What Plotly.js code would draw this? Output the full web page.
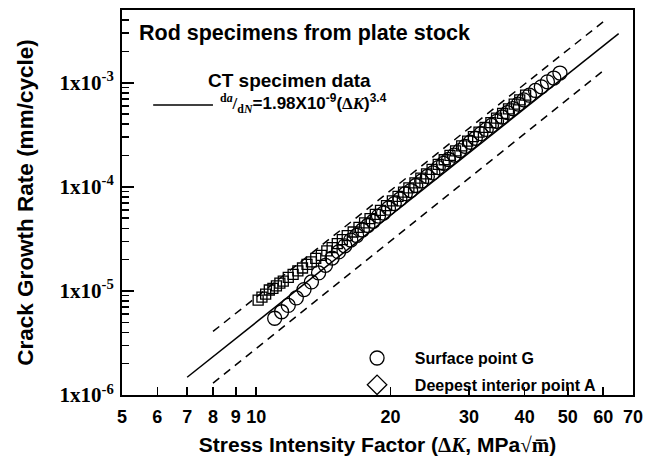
<!DOCTYPE html>
<html>
<head>
<meta charset="utf-8">
<script src="https://cdn.plot.ly/plotly-3.0.1.min.js"></script>
<style>html,body{margin:0;padding:0;background:#fff;}#chart{width:653px;height:463px;}</style>
</head>
<body>
<div id="chart"></div>
<script>
// Surface point G (circles)
var surfaceK = [11.0, 11.4, 11.8, 12.3, 12.8, 13.3, 13.8, 14.3, 14.8, 15.3, 15.8, 16.3, 16.8, 17.3, 17.8, 18.3, 18.8, 19.3, 19.8, 20.4, 21.0, 21.6, 22.2, 22.8, 23.5, 24.2, 24.9, 25.6, 26.3, 27.0, 27.8, 28.6, 29.4, 30.2, 31.0, 31.9, 32.8, 33.7, 34.6, 35.6, 36.6, 37.6, 38.7, 39.8, 41.0, 42.3, 43.6, 45.0, 46.5, 48.0];
var surfaceRate = [5.46e-6, 6.31e-6, 7.26e-6, 8.56e-6, 1.03e-5, 1.22e-5, 1.49e-5, 1.76e-5, 2.07e-5, 2.37e-5, 2.71e-5, 3.08e-5, 3.41e-5, 3.85e-5, 4.25e-5, 4.67e-5, 5.24e-5, 5.60e-5, 6.24e-5, 6.90e-5, 7.62e-5, 8.59e-5, 9.21e-5, 1.03e-4, 1.14e-4, 1.26e-4, 1.36e-4, 1.53e-4, 1.68e-4, 1.83e-4, 2.02e-4, 2.23e-4, 2.45e-4, 2.68e-4, 2.93e-4, 3.24e-4, 3.56e-4, 3.89e-4, 4.26e-4, 4.69e-4, 5.16e-4, 5.65e-4, 6.24e-4, 6.86e-4, 7.59e-4, 8.43e-4, 9.14e-4, 1.02e-3, 1.11e-3, 1.24e-3];
// Deepest interior point A
var interiorK = [10.1, 10.3, 10.5, 10.7, 10.9, 11.1, 11.3, 11.5, 11.8, 12.1, 12.4, 12.7, 13.0, 13.3, 13.6, 14.0, 14.4, 14.8, 15.2, 15.6, 16.0, 16.5, 17.0, 17.5, 18.0, 18.5, 19.0, 19.6, 20.2, 20.8, 21.4, 22.0, 22.7, 23.4, 24.1, 24.8, 25.6, 26.4, 27.2, 28.0, 28.9, 29.8, 30.7, 31.6, 32.6, 33.6, 34.6, 35.7, 36.8, 37.9, 39.0, 40.2];
var interiorRate = [8.15e-6, 8.71e-6, 9.31e-6, 1.02e-5, 1.06e-5, 1.12e-5, 1.19e-5, 1.24e-5, 1.35e-5, 1.44e-5, 1.56e-5, 1.66e-5, 1.80e-5, 1.90e-5, 2.05e-5, 2.20e-5, 2.43e-5, 2.61e-5, 2.85e-5, 3.11e-5, 3.40e-5, 3.68e-5, 4.07e-5, 4.50e-5, 4.95e-5, 5.43e-5, 5.95e-5, 6.61e-5, 7.33e-5, 8.09e-5, 8.91e-5, 9.79e-5, 1.09e-4, 1.21e-4, 1.33e-4, 1.47e-4, 1.64e-4, 1.82e-4, 2.01e-4, 2.22e-4, 2.48e-4, 2.75e-4, 3.04e-4, 3.36e-4, 3.73e-4, 4.13e-4, 4.57e-4, 5.08e-4, 5.62e-4, 6.22e-4, 6.86e-4, 7.60e-4];
// CT specimen fit line and scatter band
var ctK = [7, 65];
var ctRate = [1.48e-6, 2.96e-3];
var upperK = [8, 60];
var upperRate = [4.08e-6, 3.85e-3];
var lowerK = [8, 60];
var lowerRate = [1.30e-6, 1.30e-3];
// ticks
var xTickVals = [5, 6, 7, 8, 9, 10, 20, 30, 40, 50, 60, 70];
var xTickText = ['5', '6', '7', '8', '9', '10', '20', '30', '40', '50', '60', '70'];
var yTickVals = [1e-6, 1e-5, 1e-4, 1e-3];
var yTickText = ['1x10<sup>-6</sup>', '1x10<sup>-5</sup>', '1x10<sup>-4</sup>', '1x10<sup>-3</sup>'];
var yMinorVals = [2e-6,3e-6,4e-6,5e-6,6e-6,7e-6,8e-6,9e-6,2e-5,3e-5,4e-5,5e-5,6e-5,7e-5,8e-5,9e-5,2e-4,3e-4,4e-4,5e-4,6e-4,7e-4,8e-4,9e-4,2e-3,3e-3,4e-3];
var legendNames = ['Surface point G', 'Deepest interior point A'];

var SANS = 'Liberation Sans, Arial, sans-serif';
var SERIF = 'Liberation Serif, Times New Roman, serif';
var PAD = '\u00a0\u00a0\u00a0\u00a0';
var TAIL = '\u00a0\u00a0\u00a0\u00a0\u00a0';

var traces = [
  {x: upperK, y: upperRate, mode: 'lines', line: {color: '#000', width: 1.5, dash: '8px,6px'}, showlegend: false, hoverinfo: 'skip'},
  {x: lowerK, y: lowerRate, mode: 'lines', line: {color: '#000', width: 1.5, dash: '8px,6px'}, showlegend: false, hoverinfo: 'skip'},
  {x: ctK, y: ctRate, mode: 'lines', line: {color: '#000', width: 1.5}, showlegend: false},
  {x: interiorK, y: interiorRate, mode: 'markers', marker: {symbol: 'square-open', size: 10, color: '#000', line: {width: 1.3, color: '#000'}}, showlegend: false},
  {x: surfaceK, y: surfaceRate, mode: 'markers', name: PAD + legendNames[0], legendgroup: 'g', marker: {symbol: 'circle-open', size: 14, color: '#000', line: {width: 1.3, color: '#000'}}},
  {x: [null], y: [null], mode: 'markers', name: PAD + legendNames[1], legendgroup: 'a', marker: {symbol: 'diamond-open', size: 15, color: '#000', line: {width: 1.3, color: '#000'}}}
];

var layout = {
  width: 653, height: 463,
  margin: {l: 122, r: 20, t: 10, b: 68},
  paper_bgcolor: '#fff', plot_bgcolor: '#fff',
  showlegend: true,
  legend: {x: 0.46, y: 0.14, xanchor: 'left', yanchor: 'top', bgcolor: 'rgba(0,0,0,0)', borderwidth: 0,
    font: {family: SANS, size: 16, color: '#000', weight: 'bold'}, tracegroupgap: 3, itemsizing: 'trace'},
  xaxis: {
    type: 'log', range: [Math.log10(5), Math.log10(70)],
    tickmode: 'array', tickvals: xTickVals, ticktext: xTickText,
    ticks: 'inside', ticklen: 8, tickwidth: 1.5, tickcolor: '#000',
    showline: true, linewidth: 2, linecolor: '#000', mirror: true,
    showgrid: false, zeroline: false, ticklabelstandoff: 4,
    tickfont: {family: SANS, size: 18, color: '#000', weight: 'bold'},
    title: {text: 'Stress Intensity Factor (<span style="font-family:Liberation Serif">Δ<i>K</i></span>, MPa<span style="font-family:Liberation Serif">√m̅</span>)' + TAIL,
      font: {family: SANS, size: 21, color: '#000', weight: 'bold'}, standoff: 12}
  },
  yaxis: {
    type: 'log', range: [-6, Math.log10(5e-3)],
    tickmode: 'array', tickvals: yTickVals, ticktext: yTickText,
    ticks: 'inside', ticklen: 12, tickwidth: 2, tickcolor: '#000',
    minor: {tickmode: 'array', tickvals: yMinorVals, ticks: 'inside', ticklen: 7, tickwidth: 1.5, tickcolor: '#000', showgrid: false},
    showline: true, linewidth: 2, linecolor: '#000', mirror: true,
    showgrid: false, zeroline: false, ticklabelstandoff: 2,
    tickfont: {family: SERIF, size: 21, color: '#000', weight: 'bold'},
    title: {text: 'Crack Growth Rate (mm/cycle)', font: {family: SANS, size: 22.5, color: '#000', weight: 'bold'}, standoff: 20}
  },
  shapes: [
    {type: 'line', xref: 'paper', yref: 'paper', x0: 0.061, x1: 0.178, y0: 0.753, y1: 0.753, line: {color: '#000', width: 1.5}}
  ],
  annotations: [
    {xref: 'paper', yref: 'paper', x: 0.029, y: 0.939, xanchor: 'left', yanchor: 'middle', showarrow: false,
     text: 'Rod specimens from plate stock', font: {family: SANS, size: 21.5, color: '#000', weight: 'bold'}},
    {xref: 'paper', yref: 'paper', x: 0.327, y: 0.818, xanchor: 'center', yanchor: 'middle', showarrow: false,
     text: 'CT specimen data', font: {family: SANS, size: 19, color: '#000', weight: 'bold'}},
    {xref: 'paper', yref: 'paper', x: 0.187, y: 0.756, xanchor: 'left', yanchor: 'middle', showarrow: false,
     text: '<span style="font-family:Liberation Serif"><sup>d<i>a</i></sup>/<sub>d<i>N</i></sub></span>=1.98X10<sup>-9</sup>(<span style="font-family:Liberation Serif">Δ<i>K</i></span>)<sup>3.4</sup>',
     font: {family: SANS, size: 17, color: '#000', weight: 'bold'}}
  ]
};

Plotly.newPlot('chart', traces, layout, {displayModeBar: false, staticPlot: true});
</script>
</body>
</html>
